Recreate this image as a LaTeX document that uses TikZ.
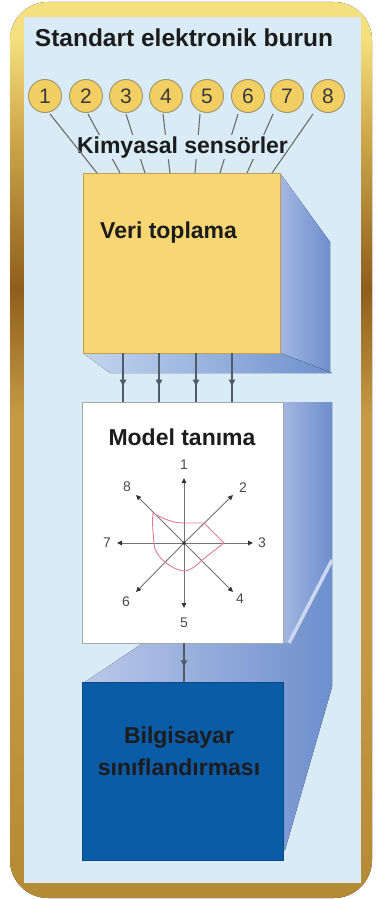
\documentclass[tikz,border=0pt]{standalone}
\usepackage{fontspec}
\setmainfont{Liberation Sans}
\usetikzlibrary{arrows.meta,calc,shadings}
\definecolor{panel}{HTML}{D8EBF7}
\definecolor{goldA}{HTML}{F4E07E}
\definecolor{goldB}{HTML}{D2AC4E}
\definecolor{goldD}{HTML}{8E5F1C}
\definecolor{goldC}{HTML}{C49A44}
\definecolor{goldE}{HTML}{B58A35}
\definecolor{yel}{HTML}{F8D673}
\definecolor{yelb}{HTML}{C2A050}
\definecolor{sens}{HTML}{F3CF63}
\definecolor{sensb}{HTML}{A09870}
\definecolor{faceL}{HTML}{A3B6E2}
\definecolor{faceR}{HTML}{6D8FCD}
\definecolor{dkblue}{HTML}{0B5CA6}
\definecolor{txt}{HTML}{1C1C1C}
\definecolor{pinkline}{HTML}{E37A93}
\definecolor{numtxt}{HTML}{3A3A3A}
\definecolor{flowc}{HTML}{4F5B66}
\pgfdeclareverticalshading{goldv}{100bp}{color(0bp)=(goldE); color(25bp)=(goldE); color(40bp)=(goldC); color(52bp)=(goldC); color(59bp)=(goldD); color(68bp)=(goldB); color(73bp)=(goldA); color(100bp)=(goldA)}
\tikzset{
  bigtxt/.style={font=\bfseries\fontsize{23}{27}\selectfont, text=txt},
  sensor/.style={circle, draw=sensb, line width=1pt, fill=sens, minimum size=33pt, inner sep=0pt, font=\fontsize{21}{21}\selectfont, text=numtxt},
  sensline/.style={draw=gray!85!black, line width=1.1pt},
  flow/.style={draw=flowc, line width=1.3pt},
  flowtip/.style={flow, -{Triangle[length=6pt,width=6.5pt]}},
  axisline/.style={draw=gray!90!black, line width=0.9pt, -{Triangle[length=5pt,width=4.5pt,color=black!80]}},
  axlabel/.style={font=\fontsize{14}{14}\selectfont, text=black!70, inner sep=0pt},
  boxnode/.style={rectangle, inner sep=0pt, line width=0.8pt}
}
\begin{document}
\begin{tikzpicture}[x=1pt,y=-1pt]
\useasboundingbox (0,0) rectangle (377,899);
\fill[white] (0,0) rectangle (377,899);
% gold frame
\fill[shading=goldv, rounded corners=38pt] (10,2) rectangle (372,898);
% panel
\fill[panel] (24,17) rectangle (361,883);
% 3D faces
\fill[left color=faceL, right color=faceR] (280,173) -- (330,242) -- (330,372) -- (280,353) -- cycle;
\fill[left color=faceL!40!panel, right color=faceR] (83,353) -- (280,353) -- (332,373) -- (110,373) -- cycle;
\fill[left color=faceL, right color=faceR] (283,402) -- (332,402) -- (332,560) -- (288,643) -- (283,643) -- cycle;
\fill[left color=faceL!75!white, right color=faceR] (85,682) -- (143,643) -- (288,643) -- (332,560) -- (332,687) -- (285,850) -- (283,850) -- (283,682) -- cycle;
\draw[line width=3.5pt, faceL!55!white] (332,560) -- (289,643);
% boxes
\node[boxnode, draw=yelb, fill=yel, minimum width=197pt, minimum height=180pt] (veri) at (181.5,263) {};
\node[boxnode, draw=gray!70, fill=white, minimum width=201pt, minimum height=241pt] (model) at (182.5,522.5) {};
\node[boxnode, draw=dkblue!80!black, fill=dkblue, minimum width=201pt, minimum height=178pt] (bilg) at (182.5,771) {};
% title
\node[anchor=base, font=\bfseries\fontsize{24.5}{28}\selectfont, text=txt] (title) at (184,47) {Standart elektronik burun};
% sensors
\foreach \i/\x in {1/45,2/86,3/126,4/166,5/207,6/248,7/287,8/328}
  \node[sensor] (c\i) at (\x,96) {\i};
\foreach \i/\sx/\ex in {1/50/97,2/88/120,3/126/145,4/163/170,5/200/195,6/238/220,7/273/247,8/313/272}{
  \coordinate (s\i) at (\sx,114);
  \coordinate (e\i) at (\ex,173);
}
\foreach \i in {2,...,7} \draw[sensline] (s\i) -- (e\i);
\node[anchor=base, bigtxt, fill=panel, inner sep=1pt] (kim) at (182.5,153) {Kimyasal sensörler};
\draw[sensline] (s1) -- (e1);
\draw[sensline] (s8) -- (e8);
% box texts
\node[anchor=base west, bigtxt, inner sep=0pt] (veritxt) at (100,238) {Veri toplama};
\node[anchor=base, bigtxt, inner sep=0pt] (modeltxt) at (182,445) {Model tanıma};
\node[anchor=base, bigtxt, inner sep=0pt] (bilgtxt1) at (179,743) {Bilgisayar};
\node[anchor=base, bigtxt, inner sep=0pt] (bilgtxt2) at (179,775) {sınıflandırması};
% flows
\foreach \i/\x in {1/123,2/159,3/196,4/232}{
  \coordinate (a\i) at (\x,0);
  \coordinate (ft\i) at (veri.south -| a\i);
  \coordinate (fb\i) at (model.north -| a\i);
  \draw[flow] (ft\i) -- (fb\i);
  \draw[flowtip] (ft\i) -- ($(ft\i)!0.67!(fb\i)$);
}
\coordinate (a5) at (184,0);
\coordinate (ft5) at (model.south -| a5);
\coordinate (fb5) at (bilg.north -| a5);
\draw[flow] (ft5) -- (fb5);
\draw[flowtip] (ft5) -- ($(ft5)!0.6!(fb5)$);
% radar
\coordinate (O) at (184,543);
\foreach \i/\tx/\ty/\lx/\ly in {1/184/478/184/465, 2/233/495/243/488, 3/253/543/262/543, 4/233/592/240/599, 5/184/608/184/623, 6/136/592/126/602, 7/117/543/107/543, 8/136/495/127/487}{
  \coordinate (r\i) at (\tx,\ty);
  \draw[axisline] (O) -- (r\i);
  \node[axlabel] (l\i) at (\lx,\ly) {\i};
}
\fill[black!80] (O) circle (1.8);
\draw[pinkline, line width=0.9pt] (153,513) .. controls (165,520) and (175,523) .. (184,523) -- (204,523) -- (224,543) -- (202,560) .. controls (196,566) and (190,571) .. (184,571) .. controls (176,570) and (170,566) .. (165,562) .. controls (158,556) and (154,550) .. (154,543) .. controls (153,533) and (152,522) .. cycle;
\end{tikzpicture}
\end{document}
